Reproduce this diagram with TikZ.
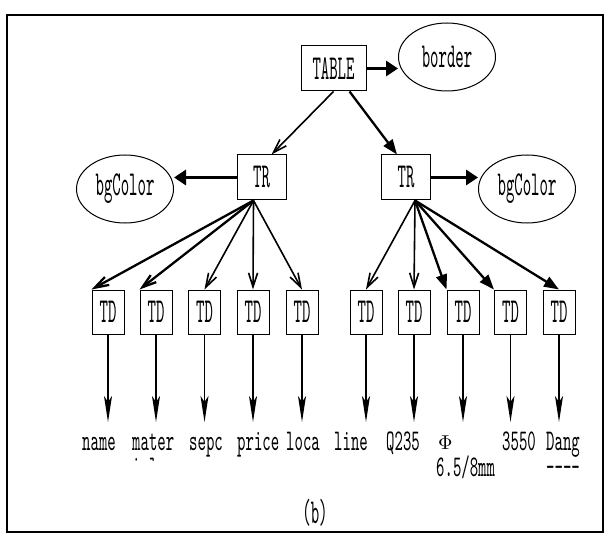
\documentclass[tikz,border=0pt]{standalone}
\usepackage{graphicx}
\usetikzlibrary{arrows.meta,shapes.geometric}
\newcommand{\nrw}[1]{\scalebox{1.6}[3.5]{#1}}
\newcommand{\nrl}[1]{\scalebox{1.6}[3.0]{#1}}
\begin{document}
\begin{tikzpicture}[x=1pt, y=-1pt,
    every node/.style={font=\fontsize{10}{12}\selectfont\ttfamily, inner sep=0pt},
    box/.style={rectangle, draw=black, line width=1pt},
    tablebox/.style={box, minimum width=65pt, minimum height=45pt},
    trbox/.style={box, minimum width=49pt, minimum height=45pt},
    tdbox/.style={box, minimum width=32pt, minimum height=44pt},
    attr/.style={ellipse, draw=black, line width=1pt, minimum width=97pt, minimum height=68pt},
    lbl/.style={anchor=base west},
    bold/.style={line width=3pt, -{Triangle[length=12pt,width=15pt]}},
    link/.style={line width=1.6pt, -{Straight Barb[length=14pt,width=9pt]}},
    wlink/.style={line width=2.3pt, -{Straight Barb[length=14pt,width=9pt]}},
    blink/.style={line width=2.3pt, -{Triangle[length=15pt,width=11pt]}},
    val/.style={line width=1.5pt, -{Stealth[length=26pt,width=8pt,inset=6pt]}}
  ]
  \useasboundingbox (0,0) rectangle (605,540);
  \draw[line width=2pt] (7,15) rectangle (603,532);

  \node[tablebox] (table) at (333.5,68.5) {\nrw{TABLE}};
  \node[attr] (border) at (447,57) {\nrw{border}};
  \node[trbox] (trl) at (261.5,177.5) {\nrw{TR}};
  \node[trbox] (trr) at (406,177.5) {\nrw{TR}};
  \node[attr] (bgl) at (125,189) {\nrw{bgColor}};
  \node[attr] (bgr) at (527,189) {\nrw{bgColor}};

  \foreach \i/\x in {1/108,2/156,3/204.5,4/253,5/302,6/366,7/414,8/463,9/510.5,10/559} {
    \node[tdbox] (td\i) at (\x,312) {\nrw{TD}};
  }

  \draw[bold] (table.east) -- (table.east -| border.west);
  \draw[link] (table.south) -- ([xshift=10pt]trl.north);
  \draw[blink] ([xshift=16pt]table.south) -- ([xshift=-9pt]trr.north);
  \draw[bold] (trl.west) -- (trl.west -| bgl.east);
  \draw[bold] (trr.east) -- (trr.east -| bgr.west);

  \coordinate (fl) at ([xshift=-8pt]trl.south);
  \coordinate (fr) at ([xshift=9pt]trr.south);
  \draw[wlink] (fl) -- (td1.north west);
  \draw[wlink] (fl) -- (td2.north west);
  \draw[link] (fl) -- (td3.north);
  \draw[link] (fl) -- (td4.north);
  \draw[link] (fl) -- (td5.north);
  \draw[link] (fr) -- (td6.north);
  \draw[link] (fr) -- (td7.north);
  \draw[blink] (fr) -- (td8.north west);
  \draw[blink] (fr) -- (td9.north west);
  \draw[blink] (fr) -- (td10.north);

  \coordinate (tip) at (0,422);
  \foreach \i in {1,...,10} {
    \draw[val] (td\i.south) -- (td\i.south |- tip);
  }

  \node[lbl] (name) at (82,450) {\nrl{name}};
  \begin{scope}
    \clip (125,420) rectangle (185,460);
    \node[lbl] (mater) at (132,450) {\nrl{mater}};
    \node[lbl] (materb) at (132,476) {\nrl{ial}};
  \end{scope}
  \node[lbl] (sepc) at (189,450) {\nrl{sepc}};
  \node[lbl] (price) at (237,450) {\nrl{price}};
  \node[lbl] (loca) at (286,450) {\nrl{loca}};
  \node[lbl] (line) at (334,450) {\nrl{line}};
  \node[lbl] (q235) at (386,450) {\nrl{Q235}};
  \node[lbl] (phi) at (438,449) {\scalebox{2}[2]{$\Phi$}};
  \node[lbl] (phib) at (436,476) {\nrl{6.5/8mm}};
  \node[lbl] (num) at (502,450) {\nrl{3550}};
  \node[lbl] (dang) at (546,450) {\nrl{Dang}};
  \node[lbl] (dangb) at (546,476) {\nrl{----}};

  \node (cap) at (315,513) {\nrw{(b)}};
\end{tikzpicture}
\end{document}
